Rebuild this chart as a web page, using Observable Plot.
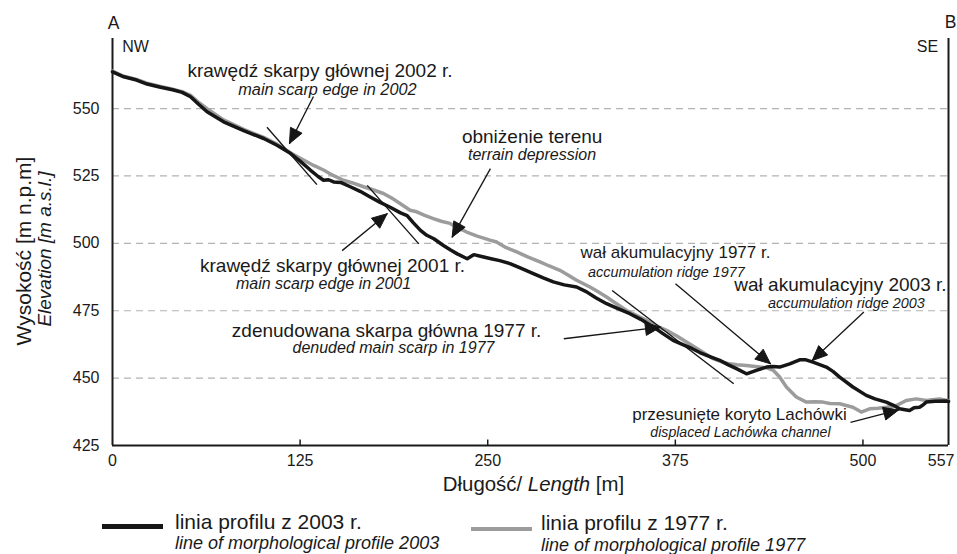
<!DOCTYPE html>
<html><head><meta charset="utf-8">
<script src="https://cdn.jsdelivr.net/npm/d3@7"></script>
<script src="https://cdn.jsdelivr.net/npm/@observablehq/plot@0.6"></script>
<style>
body{margin:0;background:#fff;font-family:"Liberation Sans",Arial,sans-serif;color:#1a1a1a;}
#wrap{position:relative;width:957px;height:554px;overflow:hidden;}
#legend{position:relative;width:957px;height:54px;}
#legend div{position:absolute;white-space:nowrap;line-height:1;}
</style></head>
<body><div id="wrap"><div id="chart"></div><div id="legend"></div></div>
<script>
// ---- data ----
const len2003 = [0,7.5,16,23,32,40,46.4,52,57,63,74,87.4,100.7,109.6,118.5,125,131.8,137,140.6,144,147.3,152,158.4,165,171.7,178,185,191.9,196.3,200.5,205.2,209.4,214.1,220.5,225,229.7,236.3,240.7,245.2,251.5,258,264.8,272,280.4,287,293.7,301,309.2,315.9,322,329.2,336,344.7,352,360.2,367,373.5,380,386,391.3,398,404.6,410,415.7,422.4,429,435.7,440,444.5,451.2,457.8,462,466.7,475.6,480,484.5,493.3,502.2,508,515.5,520,524.4,528,531.1,534,537.7,540,542.2,548,555.5,557];
const elev2003 = [563.6,561.8,560.6,559.1,557.9,557.0,556.0,554.4,551.8,548.8,545.1,541.8,538.9,536.4,533.4,530.5,527.2,524.8,523.4,523.6,522.8,522.6,521.0,519.3,517.2,515.3,513.4,511.3,510.3,507.6,504.8,503.0,501.7,499.2,497.6,496.1,494.3,495.8,495.2,494.4,493.6,492.5,490.8,488.8,487.2,485.7,484.6,483.8,482.0,479.8,477.6,476.0,473.9,471.8,469.0,466.4,464.0,462.4,461.0,459.5,458.0,456.6,455.0,453.5,451.6,452.9,454.1,454.3,454.1,455.3,456.8,456.8,455.9,454.1,452.5,450.4,446.7,443.6,442.3,441.1,440.0,438.6,438.3,438.0,439.0,439.2,440.0,441.1,441.4,441.5,441.3];
const len1977 = [0,7.5,16,23,32,40,46.4,52,57,63,74,87.4,100.7,109.6,118.5,127.3,134,140.6,147,153.9,160,167.2,174,180.5,186,191.6,198.3,202.7,208,213.8,219,224.9,230,236,243,251.5,255.9,262,269.3,277,284.8,291,298.1,304,309.2,318.1,323,329.2,336,342.5,349,355.8,362,369.1,376,382.4,391.3,400.2,406,411.3,416,422.4,431.3,436,440.2,444.5,449,455.6,462.3,468,473.4,478,484.5,493.3,498.9,504.4,510,515.5,522.2,528.8,535.5,542.2,546,551.1,557];
const elev1977 = [563.9,562.0,560.8,559.4,558.2,557.2,556.3,554.9,552.5,550.0,545.8,542.3,539.3,536.8,533.6,530.9,528.9,527.2,525.2,523.4,522.4,521.0,519.8,518.5,516.8,514.8,512.3,511.7,510.4,509.2,508.2,507.4,505.8,504.2,502.7,501.2,500.5,498.5,496.8,494.9,493.1,491.6,490.0,488.1,486.3,483.8,482.2,480.1,477.5,475.1,473.3,471.4,469.5,467.7,465.6,463.4,460.3,457.2,456.0,455.3,455.0,454.7,454.1,453.8,452.9,450.4,446.7,443.0,441.1,441.2,441.1,440.6,440.5,439.2,437.4,438.6,438.8,439.2,439.8,441.7,442.3,441.7,442.0,442.3,441.6];

const yTicks = [425,450,475,500,525,550];
const gridValues = [450,475,500,525,550];
const xTickLabels = [0,125,250,375,500];
const xEndLabel = [557];
const xTickMarks = [125,250,375,500];

const seriesNamesPL = ["linia profilu z 2003 r.", "linia profilu z 1977 r."];
const seriesNamesEN = ["line of morphological profile 2003", "line of morphological profile 1977"];

// annotation texts (Polish / English) with anchor in data units
const notePL = ["krawędź skarpy głównej 2002 r.","obniżenie terenu","krawędź skarpy głównej 2001 r.","zdenudowana skarpa główna 1977 r.","wał akumulacyjny 1977 r.","wał akumulacyjny 2003 r.","przesunięte koryto Lachówki"];
const noteEN = ["main scarp edge in 2002","terrain depression","main scarp edge in 2001","denuded main scarp in 1977","accumulation ridge 1977","accumulation ridge 2003","displaced Lachówka channel"];
const notePLx = [138.25,279.6,146.6,182.6,375.1,485.0,417.7];
const notePLy = [564.0,539.6,491.7,467.6,496.5,484.7,436.4];
const noteENx = [143.2,279.5,140.6,187.2,369.1,489.0,418.4];
const noteENy = [556.8,532.7,484.8,461.1,489.3,477.8,429.9];
const notePLsize = [19,19,19,19,17,19,17];
const noteENsize = [16.3,16,16,16,14.4,14.4,14.1];

// arrows: tail -> tip (data units)
const arrowTailX = [133.9,251.8,153.0,300.7,375.1,500.6,491.7];
const arrowTailY = [554.5,527.7,497.3,464.6,485.0,474.5,433.6];
const arrowTipX  = [117.9,226.3,183.0,365.1,438.4,466.2,523.8];
const arrowTipY  = [537.0,502.3,511.0,468.9,455.3,456.5,438.2];

// scarp tangent lines
const scarpX1 = [102.9,169.7,332.9];
const scarpY1 = [543.1,521.5,482.5];
const scarpX2 = [136.2,204.1,413.9];
const scarpY2 = [521.8,499.8,447.9];

// ---- build ----
const p2003 = len2003.map((x,i)=>({x, y: elev2003[i]}));
const p1977 = len1977.map((x,i)=>({x, y: elev1977[i]}));
const notesPL = notePL.map((t,i)=>({t, x: notePLx[i], y: notePLy[i], s: notePLsize[i]}));
const notesEN = noteEN.map((t,i)=>({t, x: noteENx[i], y: noteENy[i], s: noteENsize[i]}));
const arrows = arrowTailX.map((_,i)=>({x1: arrowTailX[i], y1: arrowTailY[i], x2: arrowTipX[i], y2: arrowTipY[i]}));
const scarps = scarpX1.map((_,i)=>({x1: scarpX1[i], y1: scarpY1[i], x2: scarpX2[i], y2: scarpY2[i]}));

const FONT = '"Liberation Sans", Arial, Helvetica, sans-serif';
const base = {
  width: 957, height: 500,
  marginLeft: 112, marginRight: 9, marginTop: 38, marginBottom: 55,
  x: {domain: [0, 557]},
  y: {domain: [425, 576]},
  style: {fontFamily: FONT, fontSize: "16px", background: "white", color: "#1a1a1a"}
};

const probe = Plot.plot({...base, x: {...base.x, axis: null}, y: {...base.y, axis: null},
  marks: [Plot.line(p2003, {x: "x", y: "y"})]});
const sx = probe.scale("x"), sy = probe.scale("y");

// arrow heads as filled triangles (computed in pixel space)
const HL = 15, HW = 6.5;
const heads = [];
arrows.forEach((a, i) => {
  const tx = sx.apply(a.x1), ty = sy.apply(a.y1), px = sx.apply(a.x2), py = sy.apply(a.y2);
  const L = Math.hypot(px - tx, py - ty), ux = (px - tx) / L, uy = (py - ty) / L;
  const bx = px - HL * ux, by = py - HL * uy, nx = -uy, ny = ux;
  const pts = [[px, py], [bx + HW * nx, by + HW * ny], [bx - HW * nx, by - HW * ny], [px, py]];
  pts.forEach(([X, Y]) => heads.push({id: i, x: sx.invert(X), y: sy.invert(Y)}));
});
const tickTop = sy.invert(sy.apply(425) - 6);

const chart = Plot.plot({
  ...base,
  marks: [
    Plot.ruleY(gridValues, {stroke: "#b3b3b3", strokeWidth: 1.2, strokeDasharray: "7,5"}),
    Plot.ruleX([0, 557], {stroke: "#1a1a1a", strokeWidth: 2}),
    Plot.ruleY([425], {stroke: "#1a1a1a", strokeWidth: 2}),
    Plot.link(xTickMarks, {x1: d => d, x2: d => d, y1: 425, y2: tickTop, stroke: "#1a1a1a", strokeWidth: 1.5}),
    Plot.axisY({ticks: yTicks, tickSize: 0, tickPadding: 13, label: null, fontSize: 16, tickFormat: d => d}),
    Plot.axisX({ticks: xTickLabels, tickSize: 0, tickPadding: 9, label: null, fontSize: 16, tickFormat: d => d}),
    Plot.axisX({ticks: xEndLabel, tickSize: 0, tickPadding: 9, label: null, fontSize: 16, tickFormat: d => d, textAnchor: "end", dx: 6}),
    Plot.line(p1977, {x: "x", y: "y", stroke: "#9c9c9c", strokeWidth: 3.5, strokeLinejoin: "round"}),
    Plot.line(p2003, {x: "x", y: "y", stroke: "#161616", strokeWidth: 3.5, strokeLinejoin: "round"}),
    Plot.link(scarps, {x1: "x1", y1: "y1", x2: "x2", y2: "y2", stroke: "#161616", strokeWidth: 1.4}),
    Plot.link(arrows, {x1: "x1", y1: "y1", x2: "x2", y2: "y2", stroke: "#161616", strokeWidth: 1.3}),
    Plot.line(heads, {x: "x", y: "y", z: "id", fill: "#161616", stroke: "#161616", strokeWidth: 1, strokeLinejoin: "miter"}),
    Plot.text(notesPL, {x: "x", y: "y", text: "t", fontSize: "s", fill: "#1a1a1a", textAnchor: "middle", lineAnchor: "middle"}),
    Plot.text(notesEN, {x: "x", y: "y", text: "t", fontSize: "s", fill: "#1a1a1a", fontStyle: "italic", textAnchor: "middle", lineAnchor: "middle"}),
    Plot.text(["A"], {frameAnchor: "top-left", dx: 1, dy: -15, fontSize: 17.5, textAnchor: "middle", lineAnchor: "middle"}),
    Plot.text(["NW"], {frameAnchor: "top-left", dx: 23, dy: 8, fontSize: 16, textAnchor: "middle", lineAnchor: "middle"}),
    Plot.text(["B"], {frameAnchor: "top-right", dx: 2, dy: -16, fontSize: 17.5, textAnchor: "middle", lineAnchor: "middle"}),
    Plot.text(["SE"], {frameAnchor: "top-right", dx: -21, dy: 8, fontSize: 16, textAnchor: "middle", lineAnchor: "middle"}),
    Plot.text(["Wysokość [m n.p.m]"], {frameAnchor: "left", dx: -88, dy: 9, rotate: -90, fontSize: 21, textAnchor: "middle", lineAnchor: "middle"}),
    Plot.text(["Elevation [m a.s.l.]"], {frameAnchor: "left", dx: -68, dy: 7, rotate: -90, fontSize: 19, fontStyle: "italic", textAnchor: "middle", lineAnchor: "middle"}),
    Plot.text(["Długość/ Length [m]"], {frameAnchor: "bottom", dx: 3, dy: 39, fontSize: 20.4, textAnchor: "middle", lineAnchor: "middle"})
  ]
});
document.getElementById("chart").appendChild(chart);

// italic part of the x-axis title
const NS = "http://www.w3.org/2000/svg";
chart.querySelectorAll("text").forEach(t => {
  if (t.textContent === "Długość/ Length [m]") {
    t.textContent = "";
    [["Długość/ ", false], ["Length", true], [" [m]", false]].forEach(([s, it]) => {
      const ts = document.createElementNS(NS, "tspan");
      ts.textContent = s;
      if (it) ts.setAttribute("font-style", "italic");
      t.appendChild(ts);
    });
  }
});

// ---- legend (below the SVG) ----
const legend = document.getElementById("legend");
const legendColors = ["#161616", "#9c9c9c"];
const legendLineX = [102, 471];
const legendLineTop = [24, 26.7];
const legendTextX = [175, 541];
const legendPLTop = [10.5, 12];
const legendENTop = [34.3, 35.8];
seriesNamesPL.forEach((name, i) => {
  const ln = document.createElement("div");
  ln.style.cssText = `left:${legendLineX[i]}px;top:${legendLineTop[i]}px;width:61px;height:4.5px;background:${legendColors[i]}`;
  legend.appendChild(ln);
  const pl = document.createElement("div");
  pl.style.cssText = `left:${legendTextX[i]}px;top:${legendPLTop[i]}px;font-size:21px`;
  pl.textContent = name;
  legend.appendChild(pl);
  const en = document.createElement("div");
  en.style.cssText = `left:${legendTextX[i]}px;top:${legendENTop[i]}px;font-size:18px;font-style:italic`;
  en.textContent = seriesNamesEN[i];
  legend.appendChild(en);
});
</script>
</body></html>
